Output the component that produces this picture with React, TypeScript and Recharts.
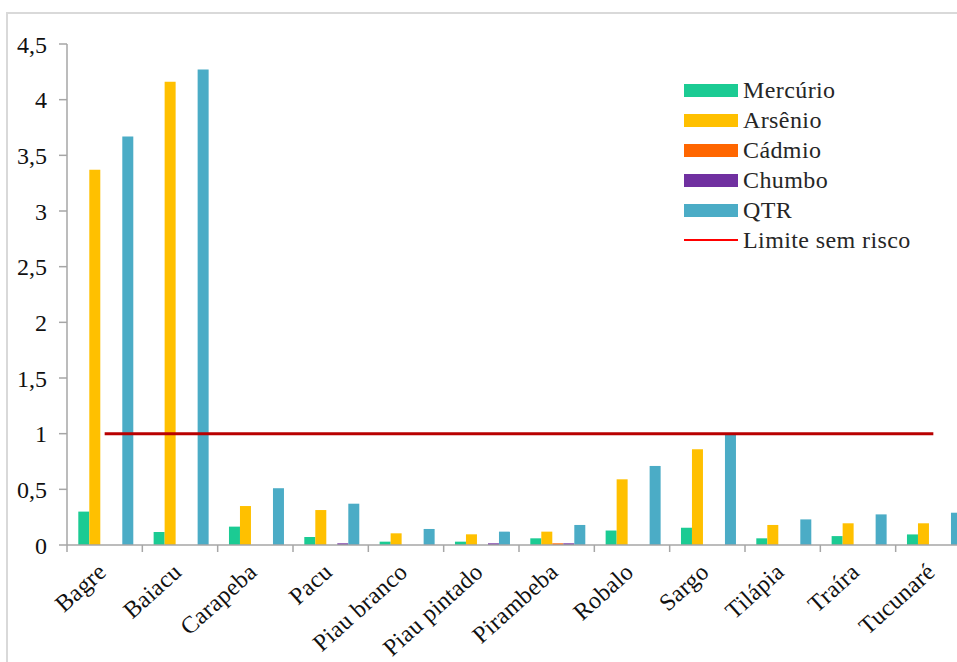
import React from "react";
import { ComposedChart, Bar, Line, XAxis, YAxis, Legend } from "recharts";

const categories = ["Bagre", "Baiacu", "Carapeba", "Pacu", "Piau branco", "Piau pintado", "Pirambeba", "Robalo", "Sargo", "Tilápia", "Traíra", "Tucunaré"];
const mercurio = [0.30, 0.117, 0.165, 0.072, 0.03, 0.03, 0.06, 0.13, 0.155, 0.06, 0.08, 0.095];
const arsenio = [3.37, 4.16, 0.35, 0.314, 0.105, 0.096, 0.12, 0.59, 0.86, 0.18, 0.195, 0.195];
const cadmio = [0, 0, 0, 0, 0, 0, 0.015, 0, 0, 0, 0, 0];
const chumbo = [0, 0, 0, 0.015, 0, 0.015, 0.015, 0, 0, 0, 0, 0];
const qtr = [3.67, 4.27, 0.51, 0.371, 0.144, 0.12, 0.18, 0.71, 1.0, 0.23, 0.275, 0.29];
const limite = [1, 1, 1, 1, 1, 1, 1, 1, 1, 1, 1, 1];
const yTicks = [0, 0.5, 1, 1.5, 2, 2.5, 3, 3.5, 4, 4.5];

const seriesNames = ["Mercúrio", "Arsênio", "Cádmio", "Chumbo", "QTR", "Limite sem risco"];
const seriesColors = ["#1BCB93", "#FFC000", "#FF6600", "#7030A0", "#4BACC6", "#B80000"];

const data = categories.map((name, i) => ({
  name,
  mercurio: mercurio[i],
  arsenio: arsenio[i],
  cadmio: cadmio[i],
  chumbo: chumbo[i],
  qtr: qtr[i],
  limite: limite[i],
}));

const CHART_W = 1000;
const Y_W = 67;
const RIGHT = 29;
const BAND = (CHART_W - Y_W - RIGHT) / categories.length;
const FONT = "'Liberation Serif', 'Times New Roman', serif";

const XTick = (props: any) => {
  const { x, y, payload } = props;
  const bx = x - BAND / 2;
  const tx = x + 3;
  const ty = y + 29;
  return (
    <g>
      <line x1={bx} y1={y} x2={bx} y2={y + 7} stroke="#a6a6a6" strokeWidth={1.5} />
      <text
        x={tx}
        y={ty}
        textAnchor="end"
        transform={`rotate(-42, ${tx}, ${ty})`}
        fontFamily={FONT}
        fontSize={24}
        letterSpacing={0.3}
        fill="#111"
      >
        {payload.value}
      </text>
    </g>
  );
};

const LegendContent = () => (
  <div style={{ fontFamily: FONT, fontSize: 24, letterSpacing: 0.4, color: "#262626" }}>
    {seriesNames.map((n, i) => (
      <div key={n} style={{ display: "flex", alignItems: "center", height: 30 }}>
        {i < 5 ? (
          <div style={{ width: 54, height: 13, background: seriesColors[i] }} />
        ) : (
          <div style={{ width: 54, height: 2, background: "#FF0000" }} />
        )}
        <span style={{ marginLeft: 5, whiteSpace: "nowrap" }}>{n}</span>
      </div>
    ))}
  </div>
);

export default function App() {
  return (
    <div style={{ position: "absolute", left: 0, top: 0, width: 957, height: 662, overflow: "hidden", background: "#fff" }}>
      <div
        style={{
          position: "absolute",
          left: 6,
          top: 12,
          width: 1000,
          height: 700,
          borderTop: "2px solid #d9d9d9",
          borderLeft: "2px solid #d9d9d9",
        }}
      />
      <div style={{ position: "absolute", left: 0, top: 0 }}>
        <ComposedChart
          width={CHART_W}
          height={662}
          data={data}
          margin={{ top: 44, right: RIGHT, bottom: 0, left: 0 }}
          barCategoryGap="15%"
          barGap={0}
        >
          <XAxis
            dataKey="name"
            height={117}
            interval={0}
            tickLine={false}
            tickSize={0}
            tickMargin={0}
            axisLine={{ stroke: "#a6a6a6", strokeWidth: 1.5 }}
            tick={<XTick />}
          />
          <YAxis
            width={Y_W}
            domain={[0, 4.5]}
            ticks={yTicks}
            interval={0}
            tickFormatter={(v: number) => String(v).replace(".", ",")}
            axisLine={{ stroke: "#a6a6a6", strokeWidth: 1.5 }}
            tickLine={{ stroke: "#a6a6a6", strokeWidth: 1.5 }}
            tickSize={8}
            tickMargin={12}
            tick={{ fontFamily: FONT, fontSize: 24, fill: "#111" }}
          />
          <Legend
            layout="vertical"
            align="center"
            verticalAlign="middle"
            content={<LegendContent />}
            wrapperStyle={{ position: "absolute", left: 684, top: 75, width: 270, height: 180 }}
          />
          <Bar dataKey="mercurio" name={seriesNames[0]} fill={seriesColors[0]} isAnimationActive={false} />
          <Bar dataKey="arsenio" name={seriesNames[1]} fill={seriesColors[1]} isAnimationActive={false} />
          <Bar dataKey="cadmio" name={seriesNames[2]} fill={seriesColors[2]} isAnimationActive={false} />
          <Bar dataKey="chumbo" name={seriesNames[3]} fill={seriesColors[3]} isAnimationActive={false} />
          <Bar dataKey="qtr" name={seriesNames[4]} fill={seriesColors[4]} isAnimationActive={false} />
          <Line
            dataKey="limite"
            name={seriesNames[5]}
            stroke={seriesColors[5]}
            strokeWidth={3}
            dot={false}
            activeDot={false}
            isAnimationActive={false}
          />
        </ComposedChart>
      </div>
    </div>
  );
}
